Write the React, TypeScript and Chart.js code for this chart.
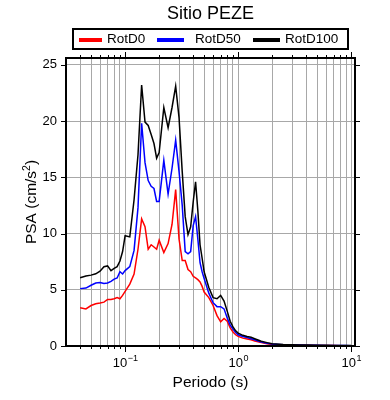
import React, { useEffect, useRef } from 'react';
import { Chart, registerables } from 'chart.js';

Chart.register(...registerables);

// ---- data ----
const periods = [
  0.04, 0.045, 0.05, 0.055, 0.06, 0.065, 0.07, 0.075, 0.08, 0.085, 0.09, 0.095,
  0.1, 0.11, 0.12, 0.13, 0.14, 0.15, 0.16, 0.17, 0.18, 0.19, 0.2,
  0.22, 0.24, 0.26, 0.28, 0.3, 0.32, 0.34, 0.36, 0.38, 0.4, 0.42, 0.44, 0.46, 0.48, 0.5,
  0.55, 0.6, 0.65, 0.7, 0.75, 0.8, 0.85, 0.9, 0.95,
  1.0, 1.1, 1.2, 1.3, 1.4, 1.5, 1.6,
  1.8, 2.0, 2.5, 3, 3.5, 4, 5, 6, 7, 8, 9, 10,
];

const rotD0 = [
  3.4, 3.3, 3.6, 3.75, 3.82, 3.9, 4.14, 4.14, 4.2, 4.3, 4.2, 4.5,
  4.85, 5.5, 6.4, 8.6, 11.3, 10.6, 8.6, 9.0, 8.8, 8.6, 9.4,
  8.3, 9.1, 10.8, 13.9, 9.5, 7.6, 7.6, 6.8, 6.6, 6.2, 6.05, 5.9, 5.7, 5.3, 4.8,
  4.3, 3.6, 2.7, 2.15, 2.45, 2.2, 1.6, 1.25, 1.0,
  0.85, 0.7, 0.62, 0.55, 0.45, 0.38, 0.3,
  0.2, 0.14, 0.1, 0.08, 0.07, 0.06, 0.05, 0.04, 0.035, 0.03, 0.03, 0.025,
];

const rotD50 = [
  5.1, 5.15, 5.4, 5.6, 5.65, 5.55, 5.6, 5.75, 5.95, 6.05, 6.6, 6.4,
  6.7, 7.05, 8.5, 12.3, 19.8, 16.3, 14.7, 14.2, 14.0, 12.85, 12.85,
  16.5, 13.5, 15.8, 18.3, 15.5, 12.5, 8.4, 8.2, 8.4, 10.7, 11.5, 9.5, 7.4, 6.6, 6.0,
  4.7, 3.85, 3.5, 3.5, 3.3, 2.5, 1.85, 1.5, 1.2,
  1.0, 0.85, 0.75, 0.65, 0.55, 0.45, 0.36,
  0.25, 0.17, 0.12, 0.1, 0.08, 0.07, 0.06, 0.05, 0.045, 0.04, 0.035, 0.03,
];

const rotD100 = [
  6.06, 6.22, 6.3, 6.42, 6.65, 7.05, 7.12, 6.7, 6.9, 7.05, 7.55, 8.4,
  9.8, 9.7, 13.0, 17.0, 23.2, 19.9, 19.6, 18.8, 18.0, 16.7, 17.2,
  21.2, 19.4, 21.2, 23.1, 20.3, 15.5, 11.5, 9.9, 10.6, 12.8, 14.6, 12.0, 9.0, 7.8, 6.6,
  5.2, 4.3, 4.2, 4.5, 4.0, 3.1, 2.2, 1.7, 1.35,
  1.15, 0.95, 0.85, 0.77, 0.65, 0.53, 0.42,
  0.3, 0.2, 0.14, 0.12, 0.1, 0.09, 0.07, 0.06, 0.05, 0.045, 0.04, 0.035,
];

const seriesLabels = ['RotD0', 'RotD50', 'RotD100'];
const seriesColors = ['#ff0000', '#0000ff', '#000000'];
const seriesValues = [rotD0, rotD50, rotD100];

const titleText = 'Sitio PEZE';
const xTitleText = 'Periodo (s)';
const yTitleMain = 'PSA (cm/s';
const yTitleSup = '2';
const yTitleEnd = ')';

const yTicks = [0, 5, 10, 15, 20, 25];
const xMajorTicks = [0.1, 1, 10];
const xMajorLabelBase = ['10', '10', '10'];
const xMajorLabelSup = ['\u22121', '0', '1'];
const xMinorTicks = [
  0.04, 0.05, 0.06, 0.07, 0.08, 0.09,
  0.2, 0.3, 0.4, 0.5, 0.6, 0.7, 0.8, 0.9,
  2, 3, 4, 5, 6, 7, 8, 9,
];

const X_MIN = 0.03;
const X_MAX = 10.8;
const Y_MIN = 0;
const Y_MAX = 25.6;

const FONT = '"Liberation Sans", Arial, Helvetica, sans-serif';

const decorPlugin = {
  id: 'decor',
  afterDatasetsDraw(chart: any) {
    const { ctx, chartArea } = chart;
    const { left, right, top, bottom } = chartArea;
    const xs = chart.scales.x;
    const ys = chart.scales.y;
    ctx.save();
    // frame
    ctx.strokeStyle = '#000';
    ctx.lineWidth = 2;
    ctx.strokeRect(left, top, right - left, bottom - top);

    // ticks
    ctx.lineWidth = 1;
    ctx.beginPath();
    yTicks.forEach((v) => {
      const py = Math.round(ys.getPixelForValue(v)) + 0.5;
      ctx.moveTo(left - 5, py);
      ctx.lineTo(left, py);
      ctx.moveTo(right, py);
      ctx.lineTo(right + 5, py);
    });
    const allX = [...xMinorTicks.map((v) => [v, 3]), ...xMajorTicks.map((v) => [v, 6])];
    allX.forEach(([v, len]) => {
      const px = Math.round(xs.getPixelForValue(v)) + 0.5;
      ctx.moveTo(px, bottom);
      ctx.lineTo(px, bottom + len);
      ctx.moveTo(px, top);
      ctx.lineTo(px, top - len);
    });
    ctx.stroke();

    // x tick labels with superscripts
    ctx.fillStyle = '#000';
    ctx.textBaseline = 'alphabetic';
    ctx.textAlign = 'left';
    xMajorTicks.forEach((v, i) => {
      const px = xs.getPixelForValue(v);
      ctx.font = `13px ${FONT}`;
      const wb = ctx.measureText(xMajorLabelBase[i]).width;
      ctx.font = `9px ${FONT}`;
      const ws = ctx.measureText(xMajorLabelSup[i]).width;
      const start = px - (wb + ws) / 2;
      ctx.font = `13px ${FONT}`;
      ctx.fillText(xMajorLabelBase[i], start, 367);
      ctx.font = `9px ${FONT}`;
      ctx.fillText(xMajorLabelSup[i], start + wb + 0.5, 361);
    });

    // x title
    ctx.font = `15.5px ${FONT}`;
    ctx.textAlign = 'center';
    ctx.fillText(xTitleText, (left + right) / 2, 387);

    // y title (rotated, with superscript)
    ctx.save();
    ctx.translate(36, (top + bottom) / 2);
    ctx.rotate(-Math.PI / 2);
    ctx.textAlign = 'left';
    ctx.font = `15.5px ${FONT}`;
    const wm = ctx.measureText(yTitleMain).width;
    const we = ctx.measureText(yTitleEnd).width;
    ctx.font = `10.5px ${FONT}`;
    const wsup = ctx.measureText(yTitleSup).width;
    const total = wm + wsup + we;
    let sx = -total / 2;
    ctx.font = `15.5px ${FONT}`;
    ctx.fillText(yTitleMain, sx, 0);
    sx += wm;
    ctx.font = `10.5px ${FONT}`;
    ctx.fillText(yTitleSup, sx, -6);
    sx += wsup;
    ctx.font = `15.5px ${FONT}`;
    ctx.fillText(yTitleEnd, sx, 0);
    ctx.restore();

    // title
    ctx.font = `18px ${FONT}`;
    ctx.textAlign = 'center';
    ctx.fillText(titleText, (left + right) / 2, 19);

    // legend box
    ctx.lineWidth = 2;
    ctx.strokeRect(73, 29, 275, 20);
    const sampleStart = [79, 157, 253];
    const sampleEnd = [102, 184, 280];
    const textX = [107, 195, 285];
    ctx.textAlign = 'left';
    ctx.textBaseline = 'middle';
    ctx.font = `13.5px ${FONT}`;
    chart.data.datasets.forEach((ds: any, i: number) => {
      ctx.strokeStyle = ds.borderColor;
      ctx.lineWidth = 4;
      ctx.beginPath();
      ctx.moveTo(sampleStart[i], 40);
      ctx.lineTo(sampleEnd[i], 40);
      ctx.stroke();
      ctx.fillStyle = '#000';
      ctx.fillText(ds.label, textX[i], 39.5);
    });
    ctx.restore();
  },
};

export default function App() {
  const canvasRef = useRef<HTMLCanvasElement | null>(null);

  useEffect(() => {
    if (!canvasRef.current) return;
    const datasets = seriesLabels.map((label, i) => ({
      label,
      data: periods.map((p, j) => ({ x: p, y: seriesValues[i][j] })),
      borderColor: seriesColors[i],
      backgroundColor: seriesColors[i],
      borderWidth: 1.5,
      pointRadius: 0,
      tension: 0,
      fill: false,
      order: 2 - i,
    }));
    const chart = new Chart(canvasRef.current, {
      type: 'line',
      data: { datasets },
      options: {
        animation: false,
        responsive: false,
        devicePixelRatio: 1,
        layout: { padding: { left: 0, right: 35, top: 58, bottom: 0 } },
        plugins: {
          legend: { display: false },
          title: { display: false },
          tooltip: { enabled: false },
        },
        scales: {
          x: {
            type: 'logarithmic',
            min: X_MIN,
            max: X_MAX,
            afterBuildTicks: (s: any) => {
              const all = [...xMinorTicks, ...xMajorTicks].sort((a, b) => a - b);
              s.ticks = all.map((v) => ({ value: v, major: xMajorTicks.includes(v) }));
            },
            afterFit: (s: any) => {
              s.height = 54;
            },
            ticks: { display: false },
            grid: { color: '#a8a8a8', lineWidth: 1, drawTicks: false },
            border: { display: false },
          },
          y: {
            type: 'linear',
            min: Y_MIN,
            max: Y_MAX,
            afterBuildTicks: (s: any) => {
              s.ticks = yTicks.map((v) => ({ value: v }));
            },
            afterFit: (s: any) => {
              s.width = 66;
            },
            ticks: {
              color: '#000',
              padding: 9,
              font: { family: FONT, size: 13 },
            },
            grid: {
              color: (c: any) => (c.tick && c.tick.value === 0 ? 'rgba(0,0,0,0)' : '#a8a8a8'),
              lineWidth: 1,
              drawTicks: false,
            },
            border: { display: false },
          },
        },
      },
      plugins: [decorPlugin],
    });
    return () => chart.destroy();
  }, []);

  return (
    <div style={{ position: 'absolute', left: 0, top: 0, width: 390, height: 400, background: '#fff' }}>
      <canvas ref={canvasRef} width={390} height={400} style={{ display: 'block' }} />
    </div>
  );
}
